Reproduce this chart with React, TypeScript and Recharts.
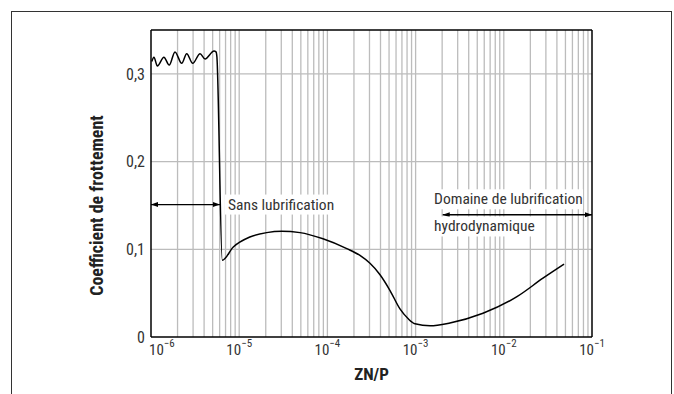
import React from "react"
import { LineChart, Line, XAxis, YAxis, ReferenceLine, ReferenceDot } from "recharts"

// ZN/P values (log axis) and friction coefficient
const znp = [
  1.02e-6, 1.08e-6, 1.18e-6, 1.4e-6, 1.61e-6, 1.87e-6, 2.23e-6, 2.54e-6, 2.97e-6, 3.6e-6, 4.1e-6, 5.18e-6,
  5.46e-6, 5.58e-6, 6.43e-6, 8.57e-6, 1.32e-5, 2.05e-5, 3.03e-5, 4.89e-5, 8.91e-5, 1.66e-4, 2.34e-4, 3.04e-4,
  3.95e-4, 5.13e-4, 6.65e-4, 8.2e-4, 9.84e-4, 1.46e-3, 2.45e-3, 5.81e-3, 1.41e-2, 2.78e-2, 4.82e-2,
]
const friction = [
  0.314, 0.319, 0.309, 0.319, 0.31, 0.325, 0.312, 0.323, 0.312, 0.323, 0.317, 0.326,
  0.325, 0.32, 0.0875, 0.1026, 0.114, 0.119, 0.1205, 0.119, 0.112, 0.1008, 0.093, 0.084,
  0.071, 0.053, 0.032, 0.021, 0.015, 0.0128, 0.016, 0.027, 0.046, 0.067, 0.083,
]

const decades = [1e-6, 1e-5, 1e-4, 1e-3, 1e-2, 1e-1]
const multipliers = [1, 2, 3, 4, 5, 6, 7, 8, 9]
const yTicks = [0, 0.1, 0.2, 0.3]
const yGrid = [0.1, 0.2, 0.3]

// annotation anchors
const dryArrow = { from: 1e-6, to: 6.05e-6, y: 0.151 }
const hydroArrow = { from: 2.03e-3, to: 1e-1, y: 0.1394 }
const notes = [
  { text: "Sans lubrification", x: 7.46e-6, y: 0.151, w: 108 },
  { text: "Domaine de lubrification", x: 1.62e-3, y: 0.157, w: 152 },
  { text: "hydrodynamique", x: 1.62e-3, y: 0.126, w: 102 },
]

const data = znp.map((x, i) => ({ x, f: friction[i] }))
const xGrid = decades.slice(0, -1).flatMap((d) => multipliers.map((m) => m * d)).filter((v) => v > 1e-6)

const FONT = '"Liberation Sans Narrow", "Roboto Condensed", "DejaVu Sans Condensed", "Liberation Sans", Arial, sans-serif'
const TEXT = "#333"

const LogTick = (props: any) => {
  const { x, y, payload, index } = props
  const exp = Math.round(Math.log10(payload.value))
  const first = index === 0
  return (
    <text x={first ? x - 2 : x} y={y + 10} textAnchor={first ? "start" : "middle"} fontFamily={FONT} fontSize={15} fill={TEXT}>
      <tspan>10</tspan>
      <tspan dy={-8} fontSize={11}>{`\u2212${-exp}`}</tspan>
    </text>
  )
}

const arrowShape = (props: any) => {
  const { x1, y1, x2, y2 } = props
  return (
    <g>
      <line x1={x1} y1={y1} x2={x2} y2={y2} stroke="#000" strokeWidth={1.3} />
      <polygon points={`${x1},${y1} ${x1 + 7},${y1 - 2.5} ${x1 + 7},${y1 + 2.5}`} fill="#000" />
      <polygon points={`${x2},${y2} ${x2 - 7},${y2 - 2.5} ${x2 - 7},${y2 + 2.5}`} fill="#000" />
    </g>
  )
}

const noteShape = (text: string, w: number) => (props: any) => {
  const { cx, cy } = props
  return (
    <g>
      <rect x={cx - 3} y={cy - 10} width={w} height={20} fill="#fff" />
      <text x={cx} y={cy} dominantBaseline="central" fontFamily={FONT} fontSize={15.5} fill={TEXT}>
        {text}
      </text>
    </g>
  )
}

const yTitle = (props: any) => {
  const { viewBox } = props
  const x = viewBox.x + 96
  const y = viewBox.y + viewBox.height / 2 + 22
  return (
    <text x={x} y={y} transform={`rotate(-90, ${x}, ${y})`} textAnchor="middle" dominantBaseline="central" fontFamily={FONT} fontSize={18} fontWeight="bold" fill="#222">
      Coefficient de frottement
    </text>
  )
}

export default function App() {
  return (
    <div style={{ position: "absolute", left: 0, top: 0, width: 674, height: 394, overflow: "hidden", background: "#fff" }}>
      <div style={{ position: "absolute", left: 11, top: 11, width: 659, height: 420, border: "1.5px solid #333" }} />
      <LineChart width={674} height={394} data={data} margin={{ top: 30, right: 82, left: 0, bottom: 12 }}>
        {xGrid.map((v) => (
          <ReferenceLine key={`gx${v}`} x={v} stroke="#bcbcbc" strokeWidth={1.3} />
        ))}
        {yGrid.map((v) => (
          <ReferenceLine key={`gy${v}`} y={v} stroke="#bcbcbc" strokeWidth={1.3} />
        ))}
        <ReferenceLine y={0.35} stroke="#000" strokeWidth={1.5} />
        <ReferenceLine x={1e-1} stroke="#000" strokeWidth={1.5} />
        <XAxis
          dataKey="x"
          type="number"
          scale="log"
          domain={[1e-6, 1e-1]}
          ticks={decades}
          allowDataOverflow
          interval={0}
          height={45}
          axisLine={{ stroke: "#000", strokeWidth: 1.5 }}
          tickLine={false}
          tick={<LogTick />}
          label={{ value: "ZN/P", position: "insideBottom", offset: 2, fontFamily: FONT, fontSize: 17, fontWeight: "bold", fill: "#222" }}
        />
        <YAxis
          type="number"
          domain={[0, 0.35]}
          ticks={yTicks}
          width={151}
          tickSize={0}
          tickMargin={6}
          axisLine={{ stroke: "#000", strokeWidth: 1.5 }}
          tickLine={false}
          tick={{ fontFamily: FONT, fontSize: 16, fill: TEXT }}
          tickFormatter={(v: number) => (v === 0 ? "0" : v.toFixed(1).replace(".", ","))}
          label={{ content: yTitle }}
        />
        <Line type="monotone" dataKey="f" stroke="#000" strokeWidth={1.5} dot={false} isAnimationActive={false} />
        <ReferenceLine
          segment={[{ x: dryArrow.from, y: dryArrow.y }, { x: dryArrow.to, y: dryArrow.y }]}
          shape={arrowShape}
          ifOverflow="visible"
        />
        {notes.map((n) => (
          <ReferenceDot key={n.text} x={n.x} y={n.y} r={0} shape={noteShape(n.text, n.w)} ifOverflow="visible" />
        ))}
        <ReferenceLine
          segment={[{ x: hydroArrow.from, y: hydroArrow.y }, { x: hydroArrow.to, y: hydroArrow.y }]}
          shape={arrowShape}
          ifOverflow="visible"
        />
      </LineChart>
    </div>
  )
}
